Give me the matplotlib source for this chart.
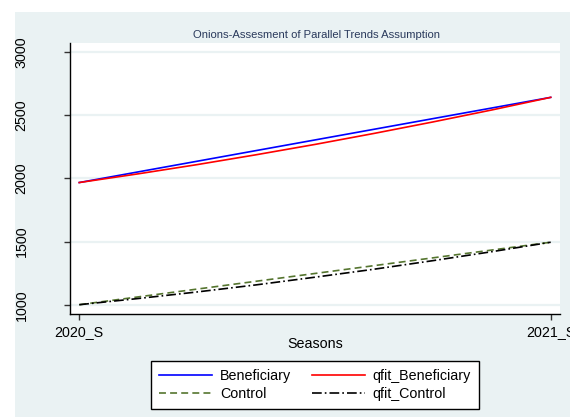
import matplotlib
matplotlib.use("Agg")
import matplotlib.pyplot as plt
from matplotlib.patches import Rectangle

plt.rcParams['font.family'] = ['Liberation Sans', 'DejaVu Sans']
plt.rcParams['lines.scale_dashes'] = False

# Season categories and tick labels
seasons = ["2020_S", "2021_S"]
season_pos = [0, 1]

# Observed group means by season
beneficiary = [1968, 2643]
control = [1000, 1495]

# Quadratic fit curves, sampled across the season range
fit_x = [0, 0.125, 0.25, 0.375, 0.5, 0.625, 0.75, 0.875, 1]
qfit_beneficiary = [1968, 2037, 2110, 2188, 2270, 2357, 2448, 2543, 2643]
qfit_control = [1000, 1049, 1101, 1157, 1218, 1281, 1349, 1420, 1495]

y_ticks = [1000, 1500, 2000, 2500, 3000]

W, H = 570, 417
fig = plt.figure(figsize=(W / 100, H / 100), dpi=100)
fig.patch.set_facecolor("white")

# graph region background
fig.patches.append(Rectangle((15 / W, 0), 1 - 15 / W, 1 - 12 / H,
                             transform=fig.transFigure, facecolor="#EAF2F3",
                             edgecolor="none", zorder=-10))

left, right = 70.3 / W, 560 / W
bottom, top = 1 - 313.7 / H, 1 - 43.3 / H
ax = fig.add_axes([left, bottom, right - left, top - bottom])
ax.set_zorder(1)
ax.set_facecolor("white")

ax.set_xlim(-0.019, 1.0197)
ax.set_ylim(928.7, 3071.3)

for s in ["top", "right"]:
    ax.spines[s].set_visible(False)
for s in ["left", "bottom"]:
    ax.spines[s].set_color("black")
    ax.spines[s].set_linewidth(1.0)

ax.set_yticks(y_ticks)
ax.set_yticklabels([str(v) for v in y_ticks], rotation=90, va="center")
ax.set_xticks(season_pos)
ax.set_xticklabels(seasons)
ax.tick_params(axis="y", length=4, width=1, color="#333333", labelsize=10.3, pad=26)
ax.tick_params(axis="x", length=4, width=1, color="#333333", labelsize=10.3, pad=4)
ax.yaxis.grid(True, color="#EAF2F3", linewidth=1.6)
ax.set_axisbelow(True)

l1, = ax.plot(season_pos, beneficiary, color="#0000FF", lw=1.2, label="Beneficiary")
l2, = ax.plot(fit_x, qfit_beneficiary, color="#FF0000", lw=1.2, label="qfit_Beneficiary")
l3, = ax.plot(season_pos, control, color="#55752F", lw=1.2, dashes=(5, 3), label="Control")
l4, = ax.plot(fit_x, qfit_control, color="black", lw=1.2, dashes=(7, 2.2, 1.2, 2.2),
              label="qfit_Control")

fig.text((left + right) / 2 + 1.5 / W, 1 - 35.5 / H,
         "Onions-Assesment of Parallel Trends Assumption",
         ha="center", va="center", fontsize=8.1, color="#2A3A5C")
fig.text((left + right) / 2, 1 - 344 / H, "Seasons", ha="center", va="center",
         fontsize=10.3, color="black")

# column-major order gives rows: Beneficiary | qfit_Beneficiary, Control | qfit_Control
leg = fig.legend(handles=[l1, l3, l2, l4], ncol=2, loc="center",
                 bbox_to_anchor=(315 / W, 1 - 384.7 / H), fontsize=10.3,
                 frameon=True, fancybox=False, handlelength=3.7, handletextpad=0.55,
                 columnspacing=1.45, labelspacing=0.3, borderpad=0.55,
                 borderaxespad=0)
leg.get_frame().set_edgecolor("black")
leg.get_frame().set_linewidth(1.0)
leg.get_frame().set_facecolor("white")
leg.get_frame().set_alpha(1)

fig.savefig("out.png", dpi=100, facecolor=fig.get_facecolor())
